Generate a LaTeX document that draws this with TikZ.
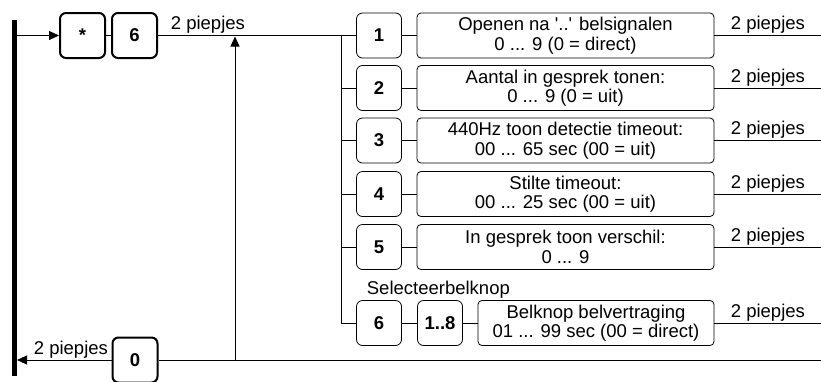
\documentclass[tikz,border=0pt]{standalone}
\usepackage{fontspec}
\setmainfont{Liberation Sans}
\usetikzlibrary{arrows.meta}

\tikzset{
  keybox/.style={draw, line width=2, rounded corners=6, minimum width=45, minimum height=45, inner sep=0, font=\fontsize{18.5}{19.5}\selectfont\bfseries},
  numbox/.style={draw, line width=0.8, rounded corners=6, minimum width=45, minimum height=45, inner sep=0, font=\fontsize{18.5}{19.5}\selectfont\bfseries},
  infobox/.style={draw, line width=0.8, rounded corners=4, minimum width=297, minimum height=45, inner sep=0, align=center, font=\fontsize{18.5}{19.5}\selectfont},
  piep/.style={inner sep=1.5, font=\fontsize{18.5}{19.5}\selectfont},
  >={Triangle[length=10,width=9]}
}

\begin{document}
\begin{tikzpicture}[x=1pt,y=-1pt,line width=0.8]
                \useasboundingbox (0,0) rectangle (821,381);
                \draw[line width=5] (14.5,20) -- (14.5,376);
                \coordinate (bartop) at (17,35.5);
                \coordinate (barbot) at (17,360);
                \node[keybox] (star) at (82.5,35.5) {*};
                \node[keybox] (six) at (134.5,35.5) {6};
                \node[keybox] (zero) at (135,360) {0};
                \node[piep, anchor=south west] (piepA) at (169,35.5) {2 piepjes};
                \node[piep, anchor=south west] (piepB) at (32,360) {2 piepjes};
                \coordinate (fork) at (341,35.5);
                \coordinate (back) at (235,360);
                \coordinate (join) at (235,36.5);
                \coordinate (endA) at (821,360);

                \node[numbox] (k1) at (379,35.5) {1};
                \node[numbox] (k2) at (379,88) {2};
                \node[numbox] (k3) at (379,140.5) {3};
                \node[numbox] (k4) at (379,194) {4};
                \node[numbox] (k5) at (379,247) {5};
                \node[numbox] (k6) at (379,323) {6};
                \node[numbox] (k18) at (440,323) {1..8};

                \node[infobox] (t1) at (565.5,35.5) {Openen na \textquotesingle..\textquotesingle{} belsignalen\\0 ... 9 (0 = direct)};
                \node[infobox] (t2) at (565.5,88) {Aantal in gesprek tonen:\\0 ... 9 (0 = uit)};
                \node[infobox] (t3) at (565.5,140.5) {440Hz toon detectie timeout:\\00 ... 65 sec (00 = uit)};
                \node[infobox] (t4) at (565.5,194) {Stilte timeout:\\00 ... 25 sec (00 = uit)};
                \node[infobox] (t5) at (565.5,247) {In gesprek toon verschil:\\0 ... 9};
                \node[infobox, minimum width=236] (t6) at (596,323) {Belknop belvertraging\\01 ... 99 sec (00 = direct)};
                \node[piep, anchor=south west] (sel) at (365,300) {Selecteerbelknop};

                \draw[->] (bartop) -- (star);
                \draw (star) -- (six);
                \draw (six) -- (k1);
                \draw (fork) |- (k6);
                \draw (k2.west) -- (k2.west -| fork);
                \draw (k3.west) -- (k3.west -| fork);
                \draw (k4.west) -- (k4.west -| fork);
                \draw (k5.west) -- (k5.west -| fork);
                \draw (k1) -- (t1);
                \draw (k2) -- (t2);
                \draw (k3) -- (t3);
                \draw (k4) -- (t4);
                \draw (k5) -- (t5);
                \draw (k6) -- (k18);
                \draw (k18) -- (t6);
                \draw (t1.east) -- +(107,0) node[piep, pos=0.5, above] (p1) {2 piepjes};
                \draw (t2.east) -- +(107,0) node[piep, pos=0.5, above] (p2) {2 piepjes};
                \draw (t3.east) -- +(107,0) node[piep, pos=0.5, above] (p3) {2 piepjes};
                \draw (t4.east) -- +(107,0) node[piep, pos=0.5, above] (p4) {2 piepjes};
                \draw (t5.east) -- +(107,0) node[piep, pos=0.5, above] (p5) {2 piepjes};
                \draw (t6.east) -- +(107,0) node[piep, pos=0.5, above] (p6) {2 piepjes};
                \draw (endA) -- (zero);
                \draw[->] (zero) -- (barbot);
                \draw[->] (back) -- (join);
        \end{tikzpicture}
\end{document}
